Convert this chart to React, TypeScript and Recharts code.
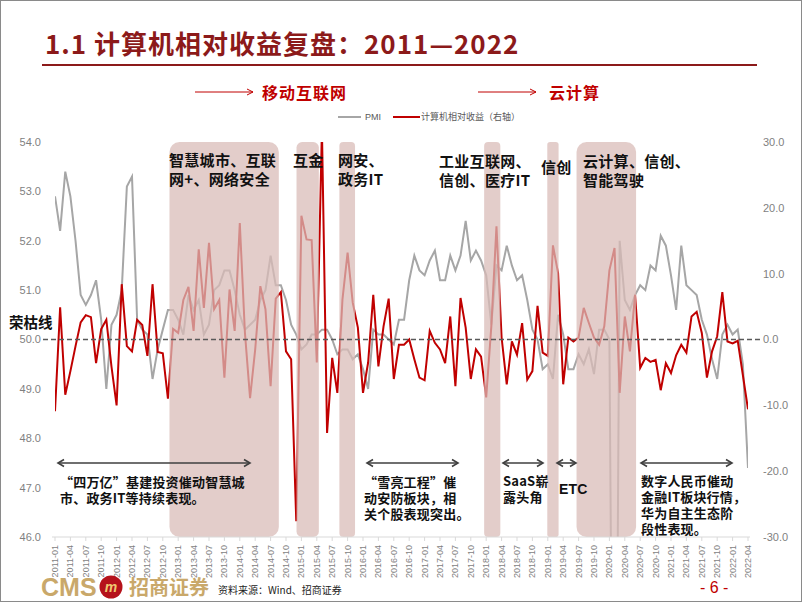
import React from 'react';
import { LineChart, Line, XAxis, YAxis, ReferenceArea, ReferenceLine } from 'recharts';

if (typeof document !== 'undefined') {
  document.body.style.margin = '0';
}

// ---------------- DATA ----------------
const categories: string[] = [
  '2011-01','2011-02','2011-03','2011-04','2011-05','2011-06','2011-07','2011-08','2011-09','2011-10','2011-11','2011-12',
  '2012-01','2012-02','2012-03','2012-04','2012-05','2012-06','2012-07','2012-08','2012-09','2012-10','2012-11','2012-12',
  '2013-01','2013-02','2013-03','2013-04','2013-05','2013-06','2013-07','2013-08','2013-09','2013-10','2013-11','2013-12',
  '2014-01','2014-02','2014-03','2014-04','2014-05','2014-06','2014-07','2014-08','2014-09','2014-10','2014-11','2014-12',
  '2015-01','2015-02','2015-03','2015-04','2015-05','2015-06','2015-07','2015-08','2015-09','2015-10','2015-11','2015-12',
  '2016-01','2016-02','2016-03','2016-04','2016-05','2016-06','2016-07','2016-08','2016-09','2016-10','2016-11','2016-12',
  '2017-01','2017-02','2017-03','2017-04','2017-05','2017-06','2017-07','2017-08','2017-09','2017-10','2017-11','2017-12',
  '2018-01','2018-02','2018-03','2018-04','2018-05','2018-06','2018-07','2018-08','2018-09','2018-10','2018-11','2018-12',
  '2019-01','2019-02','2019-03','2019-04','2019-05','2019-06','2019-07','2019-08','2019-09','2019-10','2019-11','2019-12',
  '2020-01','2020-02','2020-03','2020-04','2020-05','2020-06','2020-07','2020-08','2020-09','2020-10','2020-11','2020-12',
  '2021-01','2021-02','2021-03','2021-04','2021-05','2021-06','2021-07','2021-08','2021-09','2021-10','2021-11','2021-12',
  '2022-01','2022-02','2022-03','2022-04',
];

const tickLabels: string[] = [
  '2011-01','2011-04','2011-07','2011-10','2012-01','2012-04','2012-07','2012-10',
  '2013-01','2013-04','2013-07','2013-10','2014-01','2014-04','2014-07','2014-10',
  '2015-01','2015-04','2015-07','2015-10','2016-01','2016-04','2016-07','2016-10',
  '2017-01','2017-04','2017-07','2017-10','2018-01','2018-04','2018-07','2018-10',
  '2019-01','2019-04','2019-07','2019-10','2020-01','2020-04','2020-07','2020-10',
  '2021-01','2021-04','2021-07','2021-10','2022-01','2022-04',
];

// PMI (left axis)
const pmi: number[] = [
  52.9, 52.2, 53.4, 52.9, 52.0, 50.9, 50.7, 50.9, 51.2, 50.4, 49.0, 50.3,
  50.5, 51.0, 53.1, 53.3, 50.4, 50.2, 50.1, 49.2, 49.8, 50.2, 50.6, 50.6,
  50.4, 50.1, 50.9, 50.6, 50.8, 50.1, 50.3, 51.0, 51.1, 51.4, 51.4, 51.0,
  50.5, 50.2, 50.3, 50.4, 50.8, 51.0, 51.7, 51.1, 51.1, 50.8, 50.3, 50.1,
  49.8, 49.9, 50.1, 50.1, 50.2, 50.2, 50.0, 49.7, 49.8, 49.8, 49.6, 49.7,
  49.4, 49.0, 50.2, 50.1, 50.1, 50.0, 49.9, 50.4, 50.4, 51.2, 51.7, 51.4,
  51.3, 51.6, 51.8, 51.2, 51.2, 51.7, 51.4, 51.7, 52.4, 51.6, 51.8, 51.6,
  51.3, 50.3, 51.5, 51.4, 51.9, 51.5, 51.2, 51.3, 50.8, 50.2, 50.0, 49.4,
  49.5, 49.2, 50.5, 50.1, 49.4, 49.4, 49.7, 49.5, 49.8, 49.3, 50.2, 50.2,
  50.0, 35.7, 52.0, 50.8, 50.6, 50.9, 51.1, 51.0, 51.5, 51.4, 52.1, 51.9,
  51.3, 50.6, 51.9, 51.1, 51.0, 50.9, 50.4, 50.1, 49.6, 49.2, 50.1, 50.3,
  50.1, 50.2, 49.5, 47.4,
];

// 计算机相对收益 (right axis, %)
const relReturn: number[] = [
  -10.9, 4.9, -8.4, -4.8, -1.0, 2.6, 3.7, 3.4, -3.6, 1.6, 3.0, -4.1,
  -10.0, 8.4, -1.0, -1.8, 3.0, 2.2, -2.5, 8.4, -1.9, -2.1, -9.0, 1.6,
  1.0, 6.0, 8.0, 1.3, 13.7, 4.8, 14.7, 4.6, 6.0, -5.8, 7.6, 1.3,
  17.7, 1.0, -8.9, -1.5, 8.1, 4.6, -7.1, 6.2, 7.2, -1.8, -3.0, -27.6,
  18.8, 15.2, 15.1, -3.5, 32.0, -14.2, -2.8, -8.1, 6.1, 13.2, 5.6, 1.8,
  -8.1, -3.5, 6.8, -4.1, 2.0, 6.2, -6.0, -0.8, -0.8, 0.0, -3.0, -5.8,
  -6.2, 1.3, -0.5, -1.5, -3.6, 3.5, -7.1, 6.3, 1.8, -6.0, -1.5, -2.6,
  -8.8, 2.0, 17.2, 0.3, -6.8, -0.3, -2.3, 2.5, -6.1, -4.8, 5.1, -2.0,
  -2.5, 14.3, 10.1, -6.8, 0.3, -0.3, 0.3, 4.8, 2.5, 0.3, -0.8, 2.0,
  10.5, 13.9, -8.1, 3.5, -1.8, 6.8, -4.3, -2.8, -3.4, -3.1, -7.7, -3.6,
  -5.1, -2.4, -0.8, -2.0, 3.5, 4.2, 1.0, -5.8, -1.8, 0.5, 7.2, -0.3,
  -0.6, -0.2, -5.4, -10.6,
];

// highlighted periods (in month-index units)
const bandFrom: number[] = [22.3, 47.05, 55.4, 83.6, 95.9, 101.6];
const bandTo: number[] = [43.6, 51.4, 58.45, 86.75, 98.1, 113.2];

const leftTicks: number[] = [46, 47, 48, 49, 50, 51, 52, 53, 54];
const rightTicks: number[] = [-30, -20, -10, 0, 10, 20, 30];

const data = categories.map((m, i) => ({ idx: i, month: m, pmi: pmi[i], rel: relReturn[i] }));
const xTicks = tickLabels.map((t) => categories.indexOf(t));

// ---------------- STYLE ----------------
const CJK = '"Noto Sans CJK SC", "Noto Sans", sans-serif';
const LAT = '"Liberation Sans", Arial, sans-serif';
const RED = '#c00000';
const GRAY_LINE = '#a6a6a6';
const AXIS_TXT = '#7f7f7f';

function BandShape(props: any) {
  const { x, y, width, height } = props;
  const r = Math.min(10, width / 4);
  return <rect x={x} y={y} width={width} height={height} rx={r} ry={r} fill="#d9bcb7" fillOpacity={0.74} />;
}

function XTick(props: any) {
  const { x, y, payload } = props;
  return (
    <text
      x={x}
      y={y}
      transform={`rotate(-90 ${x} ${y})`}
      textAnchor="end"
      dominantBaseline="central"
      fontSize={9}
      fontFamily={LAT}
      fill={AXIS_TXT}
    >
      {categories[payload.value]}
    </text>
  );
}

const abs = (left: number, top: number, extra: React.CSSProperties = {}): React.CSSProperties => ({
  position: 'absolute',
  left,
  top,
  whiteSpace: 'pre',
  ...extra,
});

const noteTop: React.CSSProperties = { fontFamily: CJK, fontWeight: 700, fontSize: 15, lineHeight: '19px', color: '#111', letterSpacing: '0.3px' };
const noteBot: React.CSSProperties = { fontFamily: CJK, fontWeight: 700, fontSize: 13, lineHeight: '16px', color: '#111', letterSpacing: '0.2px' };

function DoubleArrow({ x1, x2, y }: { x1: number; x2: number; y: number }) {
  return (
    <g stroke="#3f3f3f" strokeWidth={1.6} fill="none">
      <line x1={x1} y1={y} x2={x2} y2={y} />
      <polyline points={`${x1 + 6},${y - 3.5} ${x1},${y} ${x1 + 6},${y + 3.5}`} />
      <polyline points={`${x2 - 6},${y - 3.5} ${x2},${y} ${x2 - 6},${y + 3.5}`} />
    </g>
  );
}

function RightArrow({ x1, x2, y }: { x1: number; x2: number; y: number }) {
  return (
    <g stroke={RED} strokeWidth={1} fill="none">
      <line x1={x1} y1={y} x2={x2} y2={y} />
      <polyline points={`${x2 - 6},${y - 3} ${x2},${y} ${x2 - 6},${y + 3}`} />
    </g>
  );
}

export default function App() {
  return (
    <div style={{ position: 'relative', width: 802, height: 602, background: '#fff', overflow: 'hidden' }}>
      {/* title */}
      <div style={abs(45, 26, { fontFamily: CJK, fontWeight: 700, fontSize: 26, lineHeight: '34px', color: '#8c1a1a', letterSpacing: '1px' })}>
        1.1 计算机相对收益复盘：2011—2022
      </div>
      <div style={abs(42, 64, { width: 715, height: 2, background: '#8c1a1a' })} />

      {/* stage labels */}
      <div style={abs(262, 81, { fontFamily: CJK, fontWeight: 700, fontSize: 16, lineHeight: '22px', color: RED, letterSpacing: '1px' })}>移动互联网</div>
      <div style={abs(549, 81, { fontFamily: CJK, fontWeight: 700, fontSize: 16, lineHeight: '22px', color: RED, letterSpacing: '1px' })}>云计算</div>

      {/* legend */}
      <div style={abs(338, 116, { width: 23, height: 2, background: GRAY_LINE })} />
      <div style={abs(365, 110, { fontFamily: LAT, fontSize: 9, lineHeight: '14px', color: '#595959' })}>PMI</div>
      <div style={abs(393, 116, { width: 27, height: 2, background: RED })} />
      <div style={abs(421, 110, { fontFamily: CJK, fontSize: 9, lineHeight: '14px', color: '#595959' })}>计算机相对收益（右轴）</div>

      <div style={{ position: 'absolute', left: 0, top: 0 }}>
        <LineChart width={802} height={602} data={data} margin={{ top: 142, right: 12, bottom: 0, left: 12 }}>
          <XAxis
            dataKey="idx"
            type="number"
            domain={[0, 135]}
            ticks={xTicks}
            interval={0}
            tick={<XTick />}
            tickSize={4}
            tickMargin={4}
            height={65}
            padding={{ left: 3, right: 2 }}
            axisLine={{ stroke: '#d9d9d9' }}
            tickLine={{ stroke: '#d9d9d9' }}
            allowDataOverflow
          />
          <YAxis
            yAxisId="left"
            orientation="left"
            domain={[46, 54]}
            ticks={leftTicks}
            allowDataOverflow
            width={40}
            axisLine={false}
            tickLine={false}
            tickMargin={5}
            tickFormatter={(v: number) => v.toFixed(1)}
            tick={{ fontSize: 11, fill: AXIS_TXT, fontFamily: LAT }}
          />
          <YAxis
            yAxisId="right"
            orientation="right"
            domain={[-30, 30]}
            ticks={rightTicks}
            allowDataOverflow
            width={40}
            axisLine={false}
            tickLine={false}
            tickMargin={7}
            tickFormatter={(v: number) => v.toFixed(1)}
            tick={{ fontSize: 11, fill: AXIS_TXT, fontFamily: LAT, textAnchor: 'start' }}
          />
          <Line yAxisId="left" dataKey="pmi" stroke={GRAY_LINE} strokeWidth={2} dot={false} activeDot={false} isAnimationActive={false} />
          <Line yAxisId="right" dataKey="rel" stroke={RED} strokeWidth={2} dot={false} activeDot={false} isAnimationActive={false} />
          {bandFrom.map((b, i) => (
            <ReferenceArea
              key={i}
              yAxisId="left"
              x1={b}
              x2={bandTo[i]}
              y1={46}
              y2={54}
              shape={<BandShape />}
              {...({ zIndex: 450 } as any)}
            />
          ))}
          <ReferenceLine
            yAxisId="left"
            segment={[{ x: -2.34, y: 50 }, { x: 137.9, y: 50 }]}
            ifOverflow="visible"
            stroke="#595959"
            strokeWidth={1.5}
            strokeDasharray="5 3"
            {...({ zIndex: 460 } as any)}
          />
        </LineChart>
      </div>

      {/* arrows */}
      <svg width={802} height={602} style={{ position: 'absolute', left: 0, top: 0, pointerEvents: 'none' }}>
        <RightArrow x1={195} x2={253} y={92} />
        <RightArrow x1={478} x2={536} y={92} />
        <DoubleArrow x1={58} x2={250} y={463} />
        <DoubleArrow x1={367} x2={458} y={463} />
        <DoubleArrow x1={503} x2={543} y={463} />
        <DoubleArrow x1={557} x2={576} y={463} />
        <DoubleArrow x1={641} x2={732} y={463} />
      </svg>

      {/* annotations in plot */}
      <div style={abs(169, 150, noteTop)}>{'智慧城市、互联\n网+、网络安全'}</div>
      <div style={abs(293, 150, noteTop)}>互金</div>
      <div style={abs(338, 150, noteTop)}>{'网安、\n政务IT'}</div>
      <div style={abs(439, 151, noteTop)}>{'工业互联网、\n信创、医疗IT'}</div>
      <div style={abs(541, 157, noteTop)}>信创</div>
      <div style={abs(583, 151, noteTop)}>{'云计算、信创、\n智能驾驶'}</div>

      <div style={abs(9, 312, { fontFamily: CJK, fontWeight: 700, fontSize: 14.5, lineHeight: '20px', color: '#111' })}>荣枯线</div>

      <div style={abs(60, 474, noteBot)}>{'“四万亿”基建投资催动智慧城\n市、政务IT等持续表现。'}</div>
      <div style={abs(364, 474, noteBot)}>{'“雪亮工程”催\n动安防板块，相\n关个股表现突出。'}</div>
      <div style={abs(503, 473, noteBot)}>{'SaaS崭\n露头角'}</div>
      <div style={abs(559, 481, { ...noteBot, fontFamily: LAT, fontSize: 14 })}>ETC</div>
      <div style={abs(641, 473, noteBot)}>{'数字人民币催动\n金融IT板块行情，\n华为自主生态阶\n段性表现。'}</div>

      {/* footer */}
      <div style={abs(41, 572, { fontFamily: LAT, fontWeight: 700, fontSize: 25, lineHeight: '30px', color: '#c9a86a' })}>CMS</div>
      <svg width={26} height={26} style={{ position: 'absolute', left: 98, top: 574 }}>
        <circle cx={13} cy={13} r={11.5} fill="#b5121b" />
        <text x={13} y={17.5} textAnchor="middle" fontSize={14} fontWeight={700} fontStyle="italic" fill="#f0c770" fontFamily={LAT}>m</text>
      </svg>
      <div style={abs(129, 573, { fontFamily: CJK, fontWeight: 700, fontSize: 20, lineHeight: '28px', color: '#c9a86a' })}>招商证券</div>
      <div style={abs(218, 582, { fontFamily: CJK, fontSize: 10, lineHeight: '16px', color: '#222' })}>资料来源：Wind、招商证券</div>
      <div style={abs(700, 577, { fontFamily: LAT, fontSize: 16, lineHeight: '22px', color: RED })}>- 6 -</div>

      {/* frame */}
      <div style={{ position: 'absolute', left: 0, top: 0, width: 802, height: 602, boxSizing: 'border-box', border: '1px solid #8a8a8a', pointerEvents: 'none' }} />
    </div>
  );
}
